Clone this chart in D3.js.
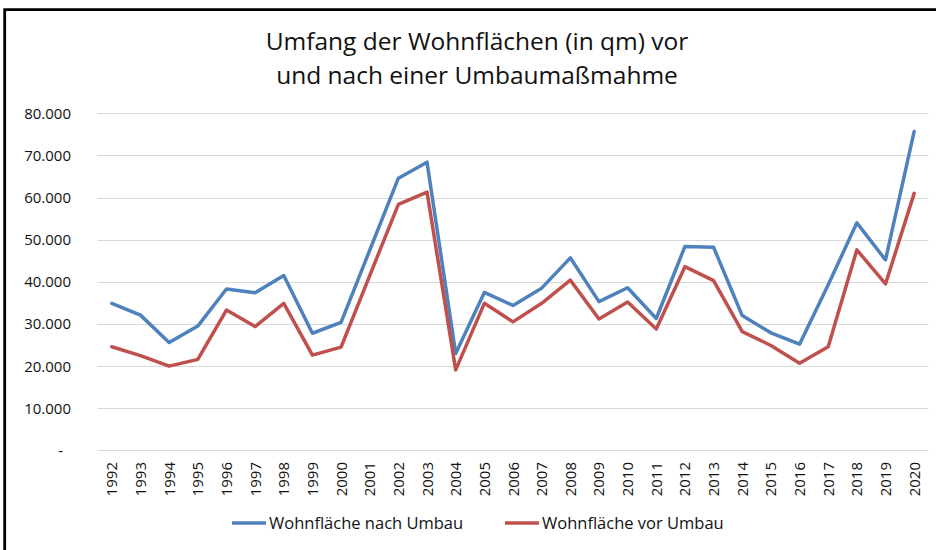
<!DOCTYPE html>
<html><head><meta charset="utf-8">
<script src="https://cdn.jsdelivr.net/npm/d3@7"></script>
<style>body{margin:0;background:#fff}svg{display:block}</style>
</head><body>
<script>
const years = ["1992","1993","1994","1995","1996","1997","1998","1999","2000","2001","2002","2003","2004","2005","2006","2007","2008","2009","2010","2011","2012","2013","2014","2015","2016","2017","2018","2019","2020"];
const nachUmbau = [34900,32100,25600,29500,38300,37400,41500,27800,30400,47500,64600,68400,23000,37500,34400,38500,45700,35300,38600,31300,48400,48200,32000,27900,25200,39300,54000,45200,75700];
const vorUmbau = [24600,22500,20000,21600,33300,29400,34900,22600,24500,41500,58400,61300,19100,34900,30500,34900,40400,31200,35200,28800,43600,40300,28200,24900,20700,24600,47600,39500,61000];
const yTicks = [0,10000,20000,30000,40000,50000,60000,70000,80000];
const titleLines = ["Umfang der Wohnflächen (in qm) vor","und nach einer Umbaumaßmahme"];
const seriesNames = ["Wohnfläche nach Umbau","Wohnfläche vor Umbau"];
const colors = ["#4F81BD","#C0504D"];

const W=936,H=550;
const svg=d3.select("body").append("svg").attr("width",W).attr("height",H);
const font="'Open Sans', sans-serif";

// frame
svg.append("path").attr("d","M4.7,550 L4.7,9.7 L936,9.7").attr("fill","none").attr("stroke","#000").attr("stroke-width",2.8);

const x=d3.scaleBand().domain(years).range([97.5,928.5]).padding(0);
const y=d3.scaleLinear().domain([0,80000]).range([450.4,113.3]);

// gridlines
svg.append("g").selectAll("line").data(yTicks).join("line")
  .attr("x1",97.5).attr("x2",928.5)
  .attr("y1",d=>Math.round(y(d))+0.5).attr("y2",d=>Math.round(y(d))+0.5)
  .attr("stroke","#D9D9D9").attr("stroke-width",1);

// y axis labels
const fmt=d=>d===0?"-":d3.format(",")(d).replace(/,/g,".");
svg.append("g").selectAll("text").data(yTicks).join("text")
  .attr("x",d=>d===0?63:71).attr("y",d=>y(d)).attr("dy","0.36em")
  .attr("text-anchor","end").attr("font-family",font).attr("font-size",15).attr("fill","#111")
  .text(fmt);

// x axis labels
svg.append("g").selectAll("text").data(years).join("text")
  .attr("transform",d=>`translate(${x(d)+x.bandwidth()/2+5.5},462) rotate(-90)`)
  .attr("text-anchor","end").attr("font-family",font).attr("font-size",15).attr("fill","#111")
  .text(d=>d);

// lines
const line=d3.line().x((d,i)=>x(years[i])+x.bandwidth()/2).y(d=>y(d));
[nachUmbau,vorUmbau].forEach((s,k)=>{
  svg.append("path").datum(s).attr("d",line).attr("fill","none")
    .attr("stroke",colors[k]).attr("stroke-width",3.5).attr("stroke-linejoin","round").attr("stroke-linecap","round");
});

// title
svg.append("g").selectAll("text").data(titleLines).join("text")
  .attr("x",477).attr("y",(d,i)=>50+i*34).attr("text-anchor","middle")
  .attr("font-family",font).attr("font-size",24.5).attr("fill","#111").text(d=>d);

// legend
const legX=[232,505];
const lg=svg.append("g").selectAll("g").data(seriesNames).join("g")
  .attr("transform",(d,i)=>`translate(${legX[i]},523)`);
lg.append("line").attr("x1",0).attr("x2",34).attr("y1",0).attr("y2",0)
  .attr("stroke",(d,i)=>colors[i]).attr("stroke-width",3.5);
lg.append("text").attr("x",37).attr("y",0).attr("dy","0.36em")
  .attr("font-family",font).attr("font-size",16.5).attr("fill","#111").text(d=>d);
</script>
</body></html>
